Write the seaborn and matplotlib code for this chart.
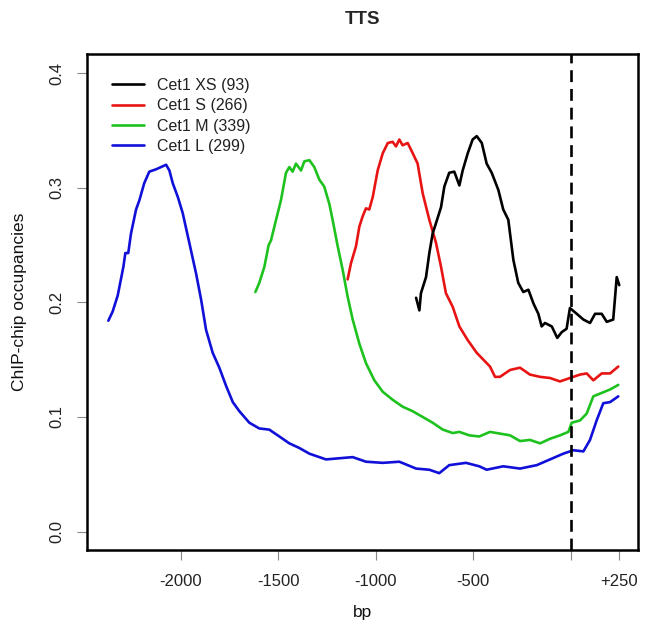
import numpy as np
import pandas as pd
import matplotlib
matplotlib.use("Agg")
import matplotlib.pyplot as plt
import seaborn as sns


# =====================================================
# DATA
# =====================================================

series_names = [
    "Cet1 L (299)",
    "Cet1 M (339)",
    "Cet1 S (266)",
    "Cet1 XS (93)",
]

l_bp = [-2371, -2349, -2323, -2294, -2284, -2269, -2255, -2229, -2212, -2187,
        -2161, -2127, -2101, -2075, -2058, -2041, -2015, -1990, -1956, -1921,
        -1895, -1870, -1836, -1802, -1767, -1733, -1699, -1648, -1597, -1546,
        -1494, -1443, -1392, -1340, -1255, -1187, -1118, -1050, -964, -879,
        -793, -725, -674, -623, -537, -469, -431, -346, -260, -174,
        -106, -38, 13, 65, 99, 133, 167, 202, 244]
l_occ = [0.184, 0.192, 0.206, 0.231, 0.243, 0.243, 0.260, 0.281, 0.289, 0.304,
         0.314, 0.316, 0.318, 0.320, 0.315, 0.304, 0.292, 0.278, 0.252, 0.225,
         0.202, 0.176, 0.156, 0.143, 0.127, 0.113, 0.105, 0.095, 0.090, 0.089,
         0.083, 0.077, 0.073, 0.068, 0.063, 0.064, 0.065, 0.061, 0.060, 0.061,
         0.055, 0.054, 0.051, 0.058, 0.060, 0.057, 0.054, 0.057, 0.055, 0.058,
         0.063, 0.068, 0.071, 0.070, 0.080, 0.097, 0.112, 0.113, 0.118]

m_bp = [-1617, -1597, -1571, -1549, -1537, -1511, -1486, -1460, -1443, -1426,
        -1409, -1383, -1366, -1340, -1315, -1289, -1264, -1238, -1221, -1195,
        -1169, -1144, -1118, -1084, -1050, -1007, -964, -913, -862, -810,
        -759, -708, -656, -605, -571, -520, -469, -414, -311, -260,
        -209, -157, -106, -55, -12, 5, 48, 82, 116, 159, 202, 244]
m_occ = [0.209, 0.217, 0.231, 0.250, 0.254, 0.272, 0.289, 0.313, 0.318, 0.314,
         0.321, 0.315, 0.323, 0.324, 0.318, 0.307, 0.301, 0.286, 0.272, 0.249,
         0.228, 0.205, 0.185, 0.164, 0.147, 0.132, 0.122, 0.115, 0.109, 0.105,
         0.100, 0.095, 0.089, 0.086, 0.087, 0.084, 0.083, 0.087, 0.084, 0.079,
         0.080, 0.077, 0.081, 0.084, 0.087, 0.095, 0.097, 0.103, 0.118, 0.121,
         0.124, 0.128]

s_bp = [-1144, -1127, -1101, -1084, -1067, -1050, -1033, -1015, -990, -964,
        -938, -913, -896, -879, -862, -836, -810, -785, -759, -725,
        -691, -665, -640, -605, -571, -528, -482, -448, -414, -388,
        -363, -311, -260, -209, -157, -106, -55, -4, 48, 82,
        116, 159, 202, 244]
s_occ = [0.220, 0.234, 0.249, 0.266, 0.275, 0.282, 0.281, 0.292, 0.315, 0.330,
         0.339, 0.340, 0.336, 0.342, 0.337, 0.339, 0.330, 0.321, 0.295, 0.272,
         0.252, 0.231, 0.208, 0.196, 0.179, 0.167, 0.156, 0.150, 0.144, 0.135,
         0.135, 0.141, 0.143, 0.137, 0.135, 0.134, 0.131, 0.134, 0.137, 0.138,
         0.132, 0.138, 0.138, 0.144]

xs_bp = [-793, -776, -768, -742, -725, -708, -691, -665, -648, -623,
         -597, -571, -554, -528, -503, -482, -456, -431, -405, -371,
         -346, -320, -294, -269, -243, -217, -191, -166, -149, -132,
         -97, -69, -46, -21, -4, 31, 65, 99, 125, 159,
         185, 218, 236, 249]
xs_occ = [0.204, 0.193, 0.208, 0.222, 0.243, 0.260, 0.269, 0.283, 0.301, 0.313,
          0.314, 0.302, 0.315, 0.330, 0.342, 0.345, 0.339, 0.321, 0.313, 0.298,
          0.281, 0.272, 0.237, 0.217, 0.209, 0.211, 0.199, 0.190, 0.179, 0.182,
          0.179, 0.169, 0.174, 0.177, 0.195, 0.190, 0.185, 0.182, 0.190, 0.190,
          0.183, 0.185, 0.222, 0.215]

x_ticks = [-2000, -1500, -1000, -500, 0, 250]
x_tick_labels = ["-2000", "-1500", "-1000", "-500", "", "+250"]
y_ticks = [0.0, 0.1, 0.2, 0.3, 0.4]
y_tick_labels = ["0.0", "0.1", "0.2", "0.3", "0.4"]

legend_order = ["Cet1 XS (93)", "Cet1 S (266)", "Cet1 M (339)", "Cet1 L (299)"]

colors = {
    "Cet1 L (299)": "#1010d8",
    "Cet1 M (339)": "#1ec21e",
    "Cet1 S (266)": "#e81414",
    "Cet1 XS (93)": "#000000",
}


# =====================================================
# LONG FORM TABLE
# =====================================================

frames = []
for name, bp, occ in zip(series_names,
                         [l_bp, m_bp, s_bp, xs_bp],
                         [l_occ, m_occ, s_occ, xs_occ]):
    frames.append(pd.DataFrame({"bp": bp, "occ": occ, "group": name}))

df = pd.concat(frames, ignore_index=True)


# =====================================================
# PLOT
# =====================================================

sns.set_style("white")
plt.rcParams["font.family"] = ["Liberation Sans", "DejaVu Sans"]

fig = plt.figure(figsize=(6.54, 6.37), dpi=100)
ax = fig.add_axes([0.1326, 0.1366, 0.9755 - 0.1326, 0.9152 - 0.1366])

sns.lineplot(
    data=df,
    x="bp",
    y="occ",
    hue="group",
    hue_order=series_names,
    palette=colors,
    linewidth=1.9,
    estimator=None,
    legend=False,
    ax=ax,
)

ax.axvline(0, color="black", linewidth=1.9, linestyle=(0, (4.5, 2.6)))

ax.set_xlim(-2482, 345)
ax.set_ylim(-0.016, 0.4166)

ax.set_xticks(x_ticks)
ax.set_xticklabels(x_tick_labels)
ax.set_yticks(y_ticks)
ax.set_yticklabels(y_tick_labels, rotation=90, va="center")

ax.tick_params(axis="both", direction="out", length=7, width=0.8,
               color="#888888", labelsize=12, labelcolor="#222222",
               bottom=True, left=True)
ax.tick_params(axis="x", pad=10)
ax.tick_params(axis="y", pad=9)

for sp in ax.spines.values():
    sp.set_visible(True)
    sp.set_color("black")
    sp.set_linewidth(1.8)

ax.set_xlabel("bp", fontsize=12.5, color="#111111", labelpad=12)
ax.set_ylabel("ChIP-chip occupancies", fontsize=12.5, color="#111111", labelpad=16)

fig.text(0.5 * (0.1326 + 0.9755), 1 - 20 / 637, "TTS",
         ha="center", va="center", fontsize=13.5, fontweight="bold")

handles = []
for name in legend_order:
    h, = ax.plot([], [], color=colors[name], linewidth=1.9)
    handles.append(h)

ax.legend(
    handles,
    legend_order,
    loc="upper left",
    bbox_to_anchor=(111.7 / 654, 1 - 78 / 637),
    bbox_transform=fig.transFigure,
    frameon=False,
    fontsize=11.5,
    handlelength=2.0,
    handletextpad=0.85,
    labelspacing=0.33,
    borderpad=0,
    borderaxespad=0,
    labelcolor="#222222",
)

fig.savefig("out.png", dpi=100)
plt.close(fig)
